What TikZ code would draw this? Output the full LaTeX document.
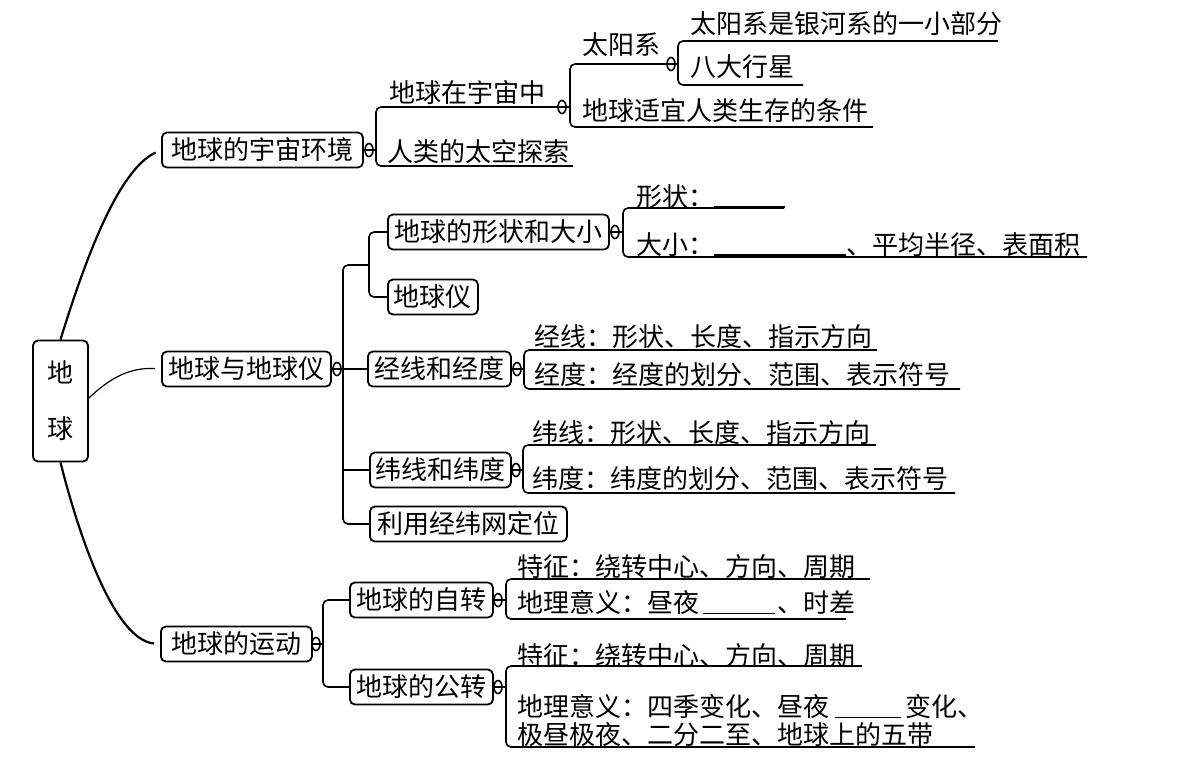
\documentclass[tikz,border=0pt]{standalone}
\usepackage{fontspec}
\newfontfamily\cjk{Noto Sans CJK SC}
\usepackage{tikz}
\usetikzlibrary{calc,positioning,shapes.geometric}
\newcommand{\fillblank}[1]{\rule[-0.5pt]{#1}{0.7pt}}

\begin{document}
\begin{tikzpicture}[x=0.5pt,y=-0.5pt,
	mapbox/.style={draw,line width=0.9pt,rounded corners=2.5pt,anchor=west,inner sep=0pt,
		minimum height=17.5pt,font=\cjk\fontsize{13pt}{15pt}\selectfont},
	leaftext/.style={anchor=west,inner sep=0pt,font=\cjk\fontsize{13pt}{14pt}\selectfont},
	knotmark/.style={draw,ellipse,line width=0.8pt,inner sep=0pt,minimum width=4pt,minimum height=6.5pt},
	brk/.style={line width=0.8pt,rounded corners=2.5pt},
	stem/.style={line width=1.1pt,shorten >=3pt}]
				 \useasboundingbox (0,0) rectangle (1203,757);
				 %\draw[color=gray,step=10, help lines,opacity=0.3] (0,0) grid (1203,757); %help grids
				 % root
				 \node[mapbox,anchor=center,minimum width=27.5pt,minimum height=60.5pt,align=center] (earth) at (60.5,401) {地\\[13pt]球};
				 \node[mapbox,minimum width=100.5pt] (u1) at (161,150) {地球的宇宙环境};
				 \node[mapbox,minimum width=84.5pt] (u2) at (161,369) {地球与地球仪};
				 \node[mapbox,minimum width=75.5pt] (u3) at (160,644) {地球的运动};
				 \draw[stem] (earth.north) .. controls (85,260) and (118,170) .. (u1.west);
				 \draw[stem,line width=0.6pt] ([yshift=1.5pt]earth.east) .. controls (110,378) and (130,367) .. (u2.west);
				 \draw[stem] (earth.south) .. controls (80,540) and (115,640) .. (u3.west);
				 % the universe
				 \node[knotmark] (m1) at (369,150) {};
				 \coordinate (k1) at (376,150);
				 \node[leaftext] (t1) at (389,93) {地球在宇宙中};
				 \node[leaftext] (t2) at (387,152) {人类的太空探索};
				 \coordinate (e2) at (573,166);
				 \node[knotmark] (m2) at (562,107) {};
				 \coordinate (k2) at (570,107);
				 \draw[line width=0.8pt] (u1.east) -- (k1);
				 \draw[brk] (k2) -| (k1) |- (e2);
				 \node[leaftext] (t3) at (582,45) {太阳系};
				 \node[leaftext] (t4) at (582,111) {地球适宜人类生存的条件};
				 \coordinate (e4) at (873,127);
				 \node[knotmark] (m3) at (671,64) {};
				 \coordinate (k3) at (678,64);
				 \draw[brk] (k3) -| (k2) |- (e4);
				 \node[leaftext] (t5) at (690,24) {太阳系是银河系的一小部分};
				 \node[leaftext] (t6) at (690,67) {八大行星};
				 \coordinate (e5) at (998,41);
				 \coordinate (e6) at (803,85);
				 \draw[brk] (e5) -| (k3) |- (e6);
				 % earth and globe
				 \node[knotmark] (m4) at (337,369) {};
				 \coordinate (k4) at (343,369);
				 \node[mapbox,minimum width=110.5pt] (b1) at (387,232) {地球的形状和大小};
				 \node[mapbox,minimum width=45pt] (b2) at (387,297) {地球仪};
				 \node[mapbox,minimum width=71.5pt] (b3) at (367,369) {经线和经度};
				 \node[mapbox,minimum width=70.5pt] (b4) at (369,470) {纬线和纬度};
				 \node[mapbox,minimum width=98.5pt] (b5) at (369,524) {利用经纬网定位};
				 \coordinate (j1) at (369,265);
				 \draw[line width=0.8pt] (u2.east) -- (b3.west);
				 \draw[brk] (j1) -| (k4) |- (b5.west);
				 \draw[line width=0.8pt] (k4 |- b4.west) -- (b4.west);
				 \draw[brk] (b1.west) -| (j1) |- (b2.west);
				 \node[knotmark] (m5) at (615,232) {};
				 \coordinate (k5) at (623,232);
				 \node[leaftext] (t7) at (636,197) {形状：\fillblank{35.5pt}};
				 \node[leaftext] (t8) at (636,245) {大小：\fillblank{66pt}、平均半径、表面积};
				 \coordinate (e7) at (784,208);
				 \coordinate (e8) at (1087,257);
				 \draw[line width=0.8pt] (b1.east) -- (k5);
				 \draw[brk] (e7) -| (k5) |- (e8);
				 \node[knotmark] (m6) at (517,369) {};
				 \coordinate (k6) at (524,369);
				 \node[leaftext] (t9) at (534,337) {经线：形状、长度、指示方向};
				 \node[leaftext] (t10) at (534,375) {经度：经度的划分、范围、表示符号};
				 \coordinate (e9) at (877,350);
				 \coordinate (e10) at (960,389);
				 \draw[line width=0.8pt] (b3.east) -- (k6);
				 \draw[brk] (e9) -| (k6) |- (e10);
				 \node[knotmark] (m7) at (516,470) {};
				 \coordinate (k7) at (523,470);
				 \node[leaftext] (t11) at (532,433) {纬线：形状、长度、指示方向};
				 \node[leaftext] (t12) at (532,479) {纬度：纬度的划分、范围、表示符号};
				 \coordinate (e11) at (876,445);
				 \coordinate (e12) at (955,493);
				 \draw[line width=0.8pt] (b4.east) -- (k7);
				 \draw[brk] (e11) -| (k7) |- (e12);
				 % motion
				 \node[knotmark] (m8) at (316,644) {};
				 \coordinate (k8) at (323,644);
				 \node[mapbox,minimum width=71.5pt] (c1) at (349,600) {地球的自转};
				 \node[mapbox,minimum width=71.5pt] (c2) at (349,687) {地球的公转};
				 \draw[line width=0.8pt] (u3.east) -- (k8);
				 \draw[brk] (c1.west) -| (k8) |- (c2.west);
				 \node[knotmark] (m9) at (498,600) {};
				 \coordinate (k9) at (506,600);
				 \node[leaftext] (t13) at (517,567) {特征：绕转中心、方向、周期};
				 \node[leaftext] (t14) at (517,603) {地理意义：昼夜\hspace{2pt}\fillblank{36pt}\hspace{1pt}、时差};
				 \coordinate (e13) at (870,579);
				 \coordinate (e14) at (846,619);
				 \draw[line width=0.8pt] (c1.east) -- (k9);
				 \draw[brk] (e13) -| (k9) |- (e14);
				 \node[knotmark] (m10) at (498,687) {};
				 \coordinate (k10) at (506,687);
				 \node[leaftext] (t15) at (517,656) {特征：绕转中心、方向、周期};
				 \node[leaftext,align=left] (t16) at (517,721) {地理意义：四季变化、昼夜\hspace{3pt}\fillblank{33pt}\hspace{2pt}变化、\\极昼极夜、二分二至、地球上的五带};
				 \coordinate (e15) at (862,666);
				 \coordinate (e16) at (975,747);
				 \draw[line width=0.8pt] (c2.east) -- (k10);
				 \draw[brk] (e15) -| (k10) |- (e16);
\end{tikzpicture}
\end{document}
